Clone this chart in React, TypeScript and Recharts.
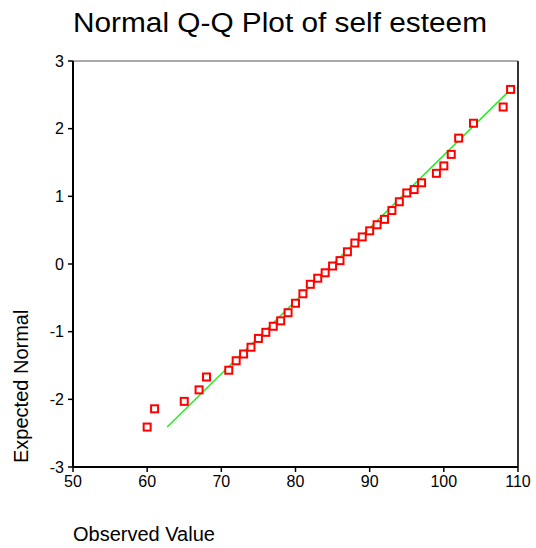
import React from "react";
import {
  ScatterChart,
  Scatter,
  XAxis,
  YAxis,
  ReferenceLine,
} from "recharts";

const observed = [
  60, 61, 65, 67, 68, 71, 72, 73, 74, 75, 76, 77, 78, 79, 80, 81, 82, 83, 84,
  85, 86, 87, 88, 89, 90, 91, 92, 93, 94, 95, 96, 97, 99, 100, 101, 102, 104,
  108, 109,
];
const expected = [
  -2.41, -2.14, -2.03, -1.86, -1.67, -1.57, -1.43, -1.33, -1.23, -1.1, -1.01,
  -0.92, -0.84, -0.72, -0.58, -0.44, -0.3, -0.21, -0.13, -0.03, 0.05, 0.18,
  0.31, 0.4, 0.49, 0.58, 0.66, 0.79, 0.92, 1.05, 1.1, 1.2, 1.34, 1.45, 1.62,
  1.86, 2.08, 2.32, 2.58,
];
const lineX = [62.7, 109.2];
const lineY = [-2.41, 2.6];
const xTicks = [50, 60, 70, 80, 90, 100, 110];
const yTicks = [-3, -2, -1, 0, 1, 2, 3];

const title = "Normal Q-Q Plot of self esteem";
const xLabel = "Observed Value";
const yLabel = "Expected Normal";

const points = observed.map((x, i) => ({ x, y: expected[i] }));
const linePts = lineX.map((x, i) => ({ x, y: lineY[i] }));

const FONT = "'Liberation Sans', Arial, sans-serif";

const SquareMarker = (props: any) => {
  const { cx, cy } = props;
  if (cx == null || cy == null) return null;
  return (
    <rect
      x={cx - 3.5}
      y={cy - 3.5}
      width={7}
      height={7}
      fill="#fff"
      stroke="#ff0000"
      strokeWidth={2}
    />
  );
};

export default function App() {
  return (
    <div style={{ position: "absolute", left: 0, top: 0, width: 536, height: 548, background: "#fff" }}>
      <ScatterChart
        width={536}
        height={548}
        margin={{ top: 61, right: 18, bottom: 51, left: 13 }}
        style={{ fontFamily: FONT }}
      >
        <XAxis
          type="number"
          dataKey="x"
          domain={[50, 110]}
          ticks={xTicks}
          interval={0}
          height={30}
          tickSize={5}
          tickMargin={4}
          axisLine={{ stroke: "#000", strokeWidth: 2 }}
          tickLine={{ stroke: "#000", strokeWidth: 1.5 }}
          tick={{ fill: "#000", fontSize: 16, fontFamily: FONT }}
          allowDataOverflow
        />
        <YAxis
          type="number"
          dataKey="y"
          domain={[-3, 3]}
          ticks={yTicks}
          interval={0}
          width={60}
          tickSize={5}
          tickMargin={4}
          axisLine={{ stroke: "#000", strokeWidth: 2 }}
          tickLine={{ stroke: "#000", strokeWidth: 1.5 }}
          tick={{ fill: "#000", fontSize: 16, fontFamily: FONT }}
          allowDataOverflow
        />
        <ReferenceLine y={3} stroke="#555" strokeWidth={1} ifOverflow="visible" />
        <ReferenceLine x={110} stroke="#333" strokeWidth={2} ifOverflow="visible" />
        <Scatter
          data={linePts}
          line={{ stroke: "#22ee22", strokeWidth: 1.5 }}
          shape={() => null}
          isAnimationActive={false}
        />
        <Scatter
          data={points}
          shape={SquareMarker}
          isAnimationActive={false}
        />
      </ScatterChart>
      <svg
        width={536}
        height={548}
        style={{ position: "absolute", left: 0, top: 0, pointerEvents: "none" }}
      >
        <text
          x={73}
          y={32}
          fontFamily={FONT}
          fontSize={27}
          fill="#000"
          textLength={414}
          lengthAdjust="spacingAndGlyphs"
        >
          {title}
        </text>
        <text x={73} y={541} fontFamily={FONT} fontSize={20} fill="#000">
          {xLabel}
        </text>
        <text
          x={28}
          y={463}
          fontFamily={FONT}
          fontSize={20}
          fill="#000"
          transform="rotate(-90, 28, 463)"
        >
          {yLabel}
        </text>
      </svg>
    </div>
  );
}
